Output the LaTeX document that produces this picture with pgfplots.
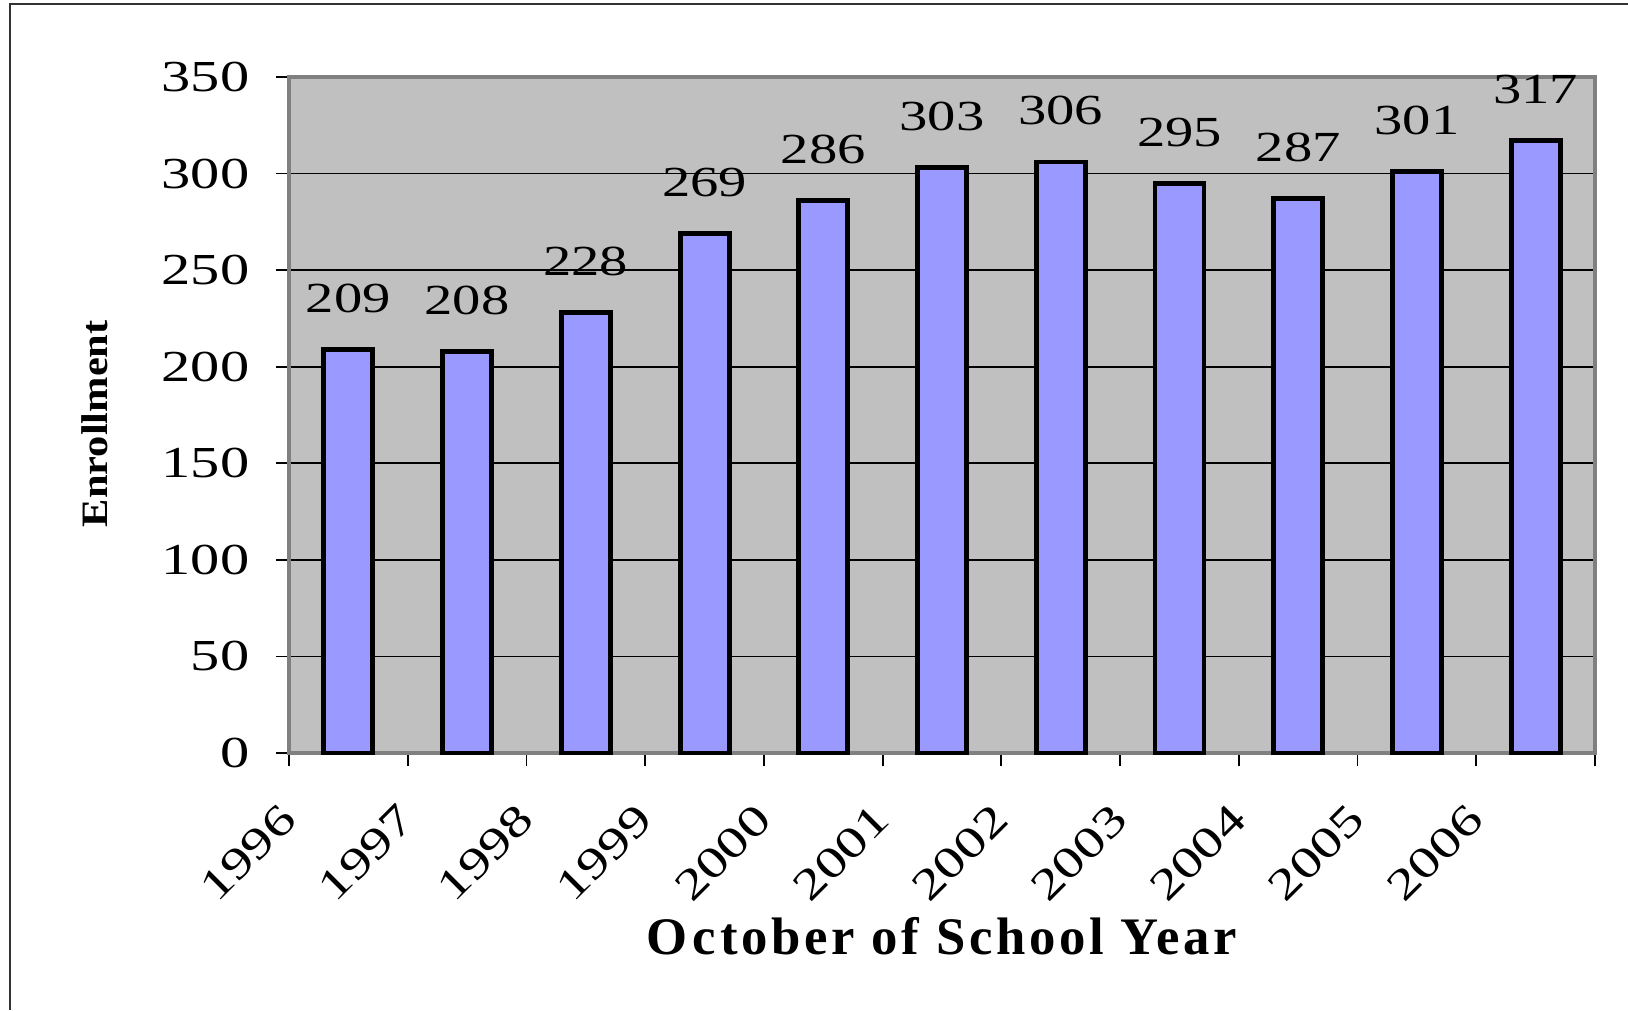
\documentclass[border=0pt]{standalone}
\usepackage{fontspec}
\setmainfont{Liberation Serif}
\newfontfamily\datafont[FakeStretch=1.32]{Liberation Serif}
\newfontfamily\labfont[LetterSpace=7]{Liberation Serif}
\usepackage{pgfplots}
\pgfplotsset{compat=1.18}
\definecolor{plotbg}{HTML}{C0C0C0}
\definecolor{barfill}{HTML}{9999FF}
\definecolor{framegray}{HTML}{808080}

\begin{document}
\begin{tikzpicture}
\path[use as bounding box] (-28.9mm,-25.7mm) rectangle (133.9mm,75.3mm);
\draw[line width=0.6pt, black!80] (-27.9mm,-25.7mm) -- (-27.9mm,74.9mm) -- (133.9mm,74.9mm);
\begin{axis}[
  scale only axis, width=130.6mm, height=67.6mm,
  at={(0,0)}, anchor=south west,
  xmin=0, xmax=11, ymin=0, ymax=350,
  ybar, bar width=4.9mm, bar shift=0pt,
  xtick={0,1,2,3,4,5,6,7,8,9,10,11},
  xticklabels={1996,1997,1998,1999,2000,2001,2002,2003,2004,2005,2006,{}},
  ytick={0,50,100,150,200,250,300,350},
  /pgf/number format/assume math mode=true,
  tick pos=left, tick align=outside,
  major tick length=1.3mm,
  tick style={black, line width=0.5pt},
  ymajorgrids, grid style={black, line width=0.5pt},
  axis line style={framegray, line width=0.9pt},
  axis background/.style={fill=plotbg},
  yticklabel style={font=\datafont\fontsize{12.6}{13}\selectfont, anchor=east, inner sep=0pt, xshift=-2.6mm},
  xticklabel style={font=\datafont\fontsize{12.4}{13}\selectfont, yshift=-4.6mm, rotate=45, anchor=east, inner sep=0pt},
  xlabel={\labfont\bfseries\fontsize{15}{16}\selectfont O\kern1.5pt ctober of School Year},
  xlabel style={at={(axis description cs:0.5,0)}, anchor=base, yshift=-20.1mm},
  ylabel={\bfseries\fontsize{10.6}{12}\selectfont\scalebox{1.14}[1]{Enrollment}},
  ylabel style={at={([xshift=-19.4mm]axis description cs:0,0.487)}, anchor=center},
  nodes near coords,
  every node near coord/.append style={font=\datafont\fontsize{12.2}{13}\selectfont, anchor=base, yshift=3.7mm, black},
  clip=false,
]
\addplot[draw=black, line width=1.4pt, fill=barfill] coordinates {
  (0.5,209) (1.5,208) (2.5,228) (3.5,269) (4.5,286) (5.5,303)
  (6.5,306) (7.5,295) (8.5,287) (9.5,301) (10.5,317)};
\end{axis}
\end{tikzpicture}
\end{document}
